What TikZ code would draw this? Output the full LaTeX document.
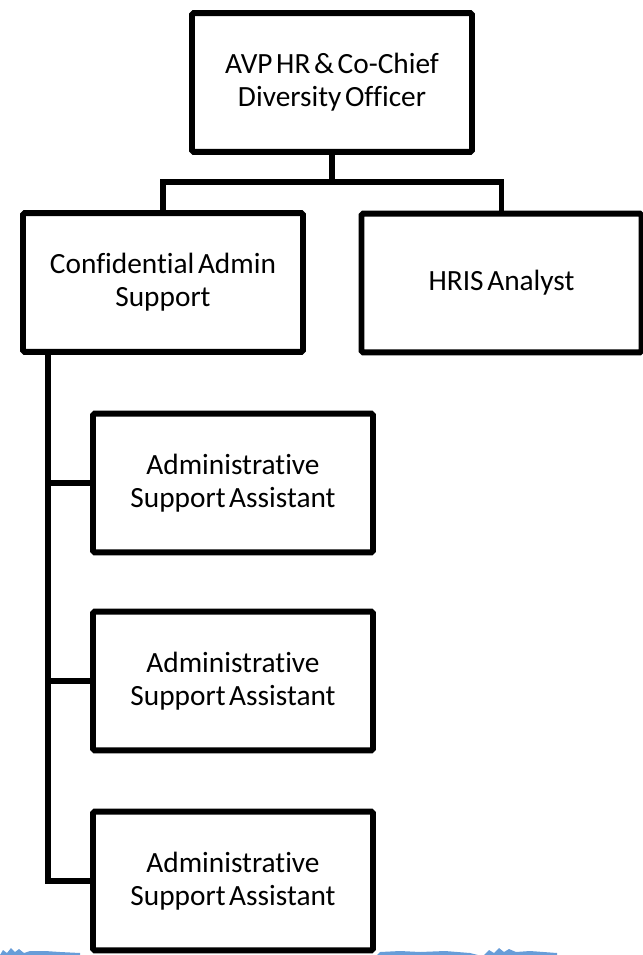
\documentclass[tikz,border=0pt]{standalone}
\usepackage{fontspec}
\setmainfont{Carlito}[Ligatures=NoCommon, WordSpace=0.55]
\usetikzlibrary{calc}
\begin{document}
\begin{tikzpicture}[x=0.75pt,y=-0.75pt,
  orgbox/.style={draw=black, line width=4.4pt, rounded corners=1.2pt, fill=white,
    minimum width=210pt, minimum height=104pt, inner sep=0pt, align=center,
    font=\fontsize{22}{24.5}\selectfont},
  link/.style={draw=black, line width=4.2pt},
  smudge/.style={fill={rgb,255:red,40;green,115;blue,200}, opacity=0.7}]
\useasboundingbox (0,0) rectangle (642,955);

% boxes
\node[orgbox] (top)  at (332,82.5)  {AVP HR \& Co-Chief\\Diversity Officer};
\node[orgbox] (conf) at (163,282.5) {Confidential Admin\\Support};
\node[orgbox] (hris) at (501.5,283) {HRIS Analyst};
\node[orgbox] (a1)   at (233,483)   {Administrative\\Support Assistant};
\node[orgbox] (a2)   at (233,681)   {Administrative\\Support Assistant};
\node[orgbox] (a3)   at (233,881)   {Administrative\\Support Assistant};

% reporting lines
\coordinate (bus) at (332,182);
\draw[link] (top.south) -- (bus);
\draw[link] (conf.north) -- (conf.north |- bus) -- (hris.north |- bus) -- (hris.north);
\coordinate (spine) at ($(conf.south west)+(28,0)$);
\draw[link] (spine) -- (spine |- a3.west) -- (a3.west);
\draw[link] (spine |- a1.west) -- (a1.west);
\draw[link] (spine |- a2.west) -- (a2.west);

% faint blue strip along the lower edge
\fill[smudge] (0,955) -- (3,950) -- (7,953) -- (11,948) -- (15,952) -- (19,949) -- (24,953)
  -- (30,951) -- (45,951) -- (60,952) -- (80,953) -- (80,955) -- cycle;
\fill[smudge] (377,955) -- (380,952) -- (400,951) -- (420,952) -- (445,951) -- (470,953)
  -- (478,955) -- cycle;
\fill[smudge] (484,955) -- (489,950) -- (494,953) -- (499,948) -- (504,952) -- (509,949)
  -- (516,952) -- (530,951) -- (557,953) -- (557,955) -- cycle;
\end{tikzpicture}
\end{document}
